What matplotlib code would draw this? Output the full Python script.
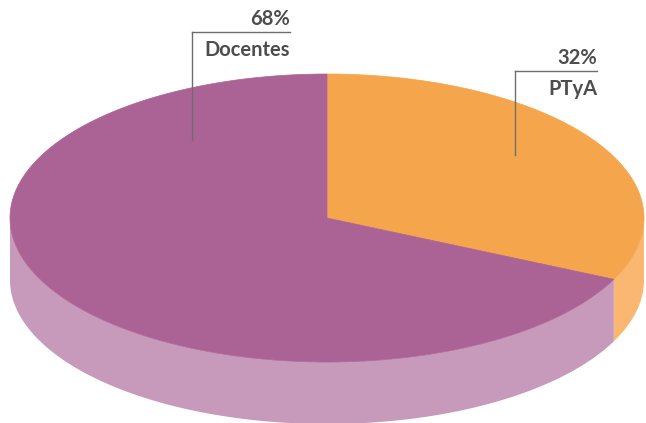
import numpy as np
import matplotlib
matplotlib.use("Agg")
import matplotlib.pyplot as plt
from matplotlib.patches import Polygon

categories = ["PTyA", "Docentes"]
values = [32, 68]
pct_labels = ["32%", "68%"]
top_colors = ["#F5A64C", "#AB6396"]
side_colors = ["#F9B772", "#C79ABC"]

W, H = 646, 423
fig = plt.figure(figsize=(W/100, H/100), dpi=100)
ax = fig.add_axes([0, 0, 1, 1])
ax.set_xlim(0, W)
ax.set_ylim(H, 0)
ax.axis("off")

cx, cy, rx, ry, depth = 327, 218, 317, 144, 62

def pt(t):
    return cx + rx*np.cos(t), cy - ry*np.sin(t)

total = sum(values)
start = np.pi/2
angles = []
for v in values:
    sweep = 2*np.pi*v/total
    angles.append((start, start - sweep))
    start -= sweep

# side faces (front half)
for (a0, a1), col in zip(angles, side_colors):
    lo, hi = a1, a0
    for shift in (0, -2*np.pi, 2*np.pi):
        l, h = lo + shift, hi + shift
        s, e = max(l, -np.pi), min(h, 0)
        if e > s:
            t = np.linspace(s, e, 200)
            xs, ys = pt(t)
            poly = np.column_stack([np.r_[xs, xs[::-1]], np.r_[ys, (ys + depth)[::-1]]])
            ax.add_patch(Polygon(poly, closed=True, fc=col, ec="none", zorder=1))

# top faces
for (a0, a1), col in zip(angles, top_colors):
    t = np.linspace(a0, a1, 300)
    xs, ys = pt(t)
    poly = np.column_stack([np.r_[cx, xs], np.r_[cy, ys]])
    ax.add_patch(Polygon(poly, closed=True, fc=col, ec=col, lw=0.5, zorder=2))

font = dict(family=["Lato", "DejaVu Sans"], fontweight="bold", color="#4D4D4D", fontsize=14.5)
lc = "#6E6E6E"
# Docentes label
ax.plot([192, 290], [32, 32], color=lc, lw=1, zorder=3)
ax.plot([192, 192], [32, 140], color=lc, lw=1, zorder=3)
ax.text(290, 25, pct_labels[1], ha="right", va="baseline", **font)
ax.text(290, 56, categories[1], ha="right", va="baseline", **font)
# PTyA label
ax.plot([515, 597], [71, 71], color=lc, lw=1, zorder=3)
ax.plot([515, 515], [71, 155], color=lc, lw=1, zorder=3)
ax.text(597, 64, pct_labels[0], ha="right", va="baseline", **font)
ax.text(597, 95, categories[0], ha="right", va="baseline", **font)

fig.savefig("out.png", dpi=100)
